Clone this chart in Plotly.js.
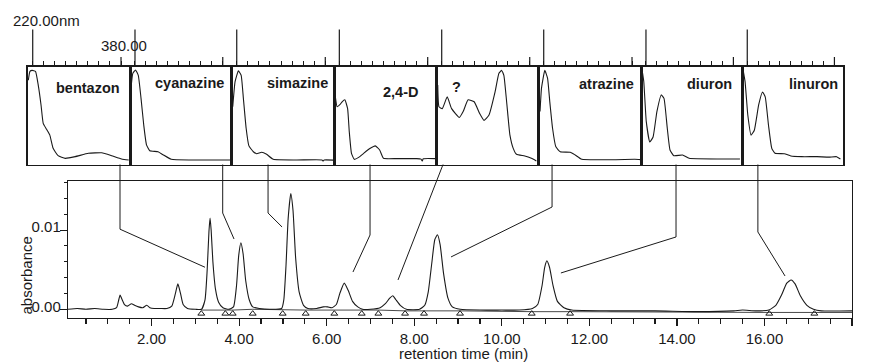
<!DOCTYPE html>
<html><head><meta charset="utf-8">
<script src="https://cdn.plot.ly/plotly-3.0.1.min.js"></script>
<style>html,body{margin:0;padding:0;background:#fff}</style>
</head><body><div id="chart" style="width:869px;height:363px"></div>
<script>
// ---------------- DATA ----------------
const compounds = ['bentazon','cyanazine','simazine','2,4-D','?','atrazine','diuron','linuron'];

// chromatogram (retention time in min, absorbance)
const retTime = [0.09,0.3,0.5,0.7,0.9,1.1,1.2,1.25,1.28,1.32,1.38,1.45,1.54,1.61,1.7,1.8,1.89,1.96,2.06,2.2,2.35,2.46,2.54,2.6,2.66,2.72,2.82,3.0,3.14,3.22,3.27,3.31,3.335,3.36,3.4,3.46,3.53,3.63,3.76,3.87,3.94,3.99,4.04,4.09,4.15,4.23,4.31,4.46,4.7,4.97,5.02,5.07,5.12,5.18,5.23,5.29,5.37,5.47,5.57,5.77,5.92,6.02,6.12,6.22,6.3,6.4,6.49,6.59,6.71,6.82,7.0,7.22,7.34,7.44,7.51,7.58,7.68,7.82,8.12,8.24,8.32,8.4,8.47,8.53,8.59,8.67,8.77,8.87,9.05,9.5,10.0,10.4,10.7,10.82,10.92,10.98,11.03,11.09,11.17,11.27,11.42,11.6,12.5,13.5,14.5,15.3,15.5,15.8,16.1,16.26,16.39,16.51,16.61,16.7,16.82,16.97,17.12,17.3,18.0];
const absorb = [0.0000,0.0001,0.0000,0.0001,0.0000,0.0000,0.0002,0.0012,0.0018,0.0013,0.0006,0.0004,0.0007,0.0005,0.0003,0.0002,0.0005,0.0002,0.0001,0.0001,0.0001,0.0004,0.0019,0.0032,0.0020,0.0006,0.0001,0.0000,0.0000,0.0012,0.0050,0.0098,0.0115,0.0100,0.0060,0.0025,0.0009,0.0002,0.0000,0.0003,0.0030,0.0068,0.0084,0.0070,0.0036,0.0012,0.0003,0.0001,0.0000,0.0001,0.0012,0.0055,0.0115,0.0146,0.0125,0.0065,0.0022,0.0005,0.0001,0.0001,0.0003,0.0003,0.0002,0.0006,0.0020,0.0033,0.0024,0.0010,0.0003,0.0000,0.0000,0.0002,0.0007,0.0014,0.0017,0.0012,0.0005,0.0000,0.0000,0.0005,0.0022,0.0058,0.0088,0.0094,0.0082,0.0045,0.0014,0.0003,0.0000,-0.0001,-0.0001,-0.0001,0.0001,0.0006,0.0030,0.0053,0.0061,0.0053,0.0030,0.0010,0.0002,-0.0001,-0.0002,-0.0002,-0.0003,-0.0002,-0.0001,-0.0002,-0.0001,0.0005,0.0018,0.0033,0.0037,0.0032,0.0017,0.0005,0.0000,-0.0002,-0.0002];

// integration marks (peak start / end) and baseline
const markTimes = [3.135,3.684,3.853,4.31,4.995,5.52,6.174,6.80,7.18,7.79,8.223,9.046,10.684,11.56,16.11,17.14];
const baseTime = [3.135,3.684,3.853,4.31,4.995,5.52,6.174,6.80,7.18,7.79,8.223,9.046,10.684,11.56,16.11,17.14,18.0];
const baseAbs  = [-0.0001,-0.0001,-0.0001,0.0000,-0.0001,-0.0001,-0.0001,-0.0001,-0.0001,-0.0002,-0.0002,-0.0002,-0.0003,-0.0003,-0.0004,-0.0004,-0.0004];

// UV spectra (wavelength nm, relative absorbance 0..1)
const wlBentazon  = [212,215,219,225,230,235,239,245,251,257,266,279,297,321,345,363,381,394];
const absBentazon = [0.86,0.95,0.96,0.95,0.81,0.61,0.42,0.36,0.30,0.165,0.09,0.063,0.08,0.114,0.12,0.09,0.056,0.046];
const wlCyanazine  = [212.8,216,221,226,231,236,241,247,262,271,286,322,394];
const absCyanazine = [0.78,0.93,0.965,0.91,0.675,0.40,0.20,0.14,0.13,0.10,0.053,0.046,0.046];
const wlSimazine  = [212.8,217,223,228,232,237,242,250,256,265,274,286,328,374,376,378,394];
const absSimazine = [0.59,0.845,0.955,0.91,0.675,0.37,0.19,0.13,0.11,0.125,0.104,0.053,0.046,0.046,0.035,0.046,0.045];
const wl24D  = [212.8,216,221,225,230,235,238,242,247,255,264,276,285,293,300,324,360,368,370,372,394];
const abs24D = [0.69,0.59,0.61,0.64,0.66,0.57,0.335,0.114,0.053,0.073,0.114,0.165,0.19,0.148,0.063,0.06,0.06,0.055,0.035,0.058,0.06];
const wlUnknown  = [212.8,215,221,230,238,252,259,268,279,289,297,306,317,324,329,333,338,344,350,356,371,383,392];
const absUnknown = [0.81,0.59,0.57,0.69,0.57,0.48,0.54,0.66,0.64,0.52,0.45,0.505,0.74,0.93,0.96,0.91,0.64,0.30,0.165,0.104,0.087,0.063,0.036];
const wlAtrazine  = [213.3,216,222,227,231,236,242,250,268,277,289,385,396];
const absAtrazine = [0.54,0.78,0.96,0.88,0.64,0.37,0.18,0.13,0.125,0.097,0.053,0.053,0.05];
const wlDiuron  = [212.8,216,220.5,227,233,240,248,253,259,264,271,287,299,356,392];
const absDiuron = [0.965,0.845,0.44,0.23,0.28,0.54,0.71,0.675,0.37,0.148,0.09,0.097,0.063,0.056,0.056];
const wlLinuron  = [212.8,216,221,227,233,241,248,253,259,265,271,288,300,320,348,370,384,391];
const absLinuron = [0.95,0.845,0.505,0.30,0.35,0.61,0.74,0.69,0.40,0.165,0.114,0.11,0.087,0.08,0.08,0.075,0.08,0.056];

const xTickVals = [2,4,6,8,10,12,14,16,18];
const yTickVals = [0,0.01];
const wlTickVals = [220,240,260,280,300,320,340,360,380];

// ---------------- LAYOUT HELPERS ----------------
const W = 869, H = 363;
const px = v => v / W;
const py = v => 1 - v / H;
const FONT = '"Liberation Sans", Arial, Helvetica, sans-serif';
const ink = '#1a1a1a';

const mainXpx = [68, 852], mainYpx = [181, 318];
const xRange = [0.09, 18], yRange = [-0.0011, 0.01618];
const boxEdges = [27.7,130,231.7,334.3,436.7,538.7,641,742.3,843.3];
const boxTop = 66.5, boxBot = 164.5;
const wlRange = [210.9, 396.3];

const spectra = [
  [wlBentazon, absBentazon],[wlCyanazine, absCyanazine],[wlSimazine, absSimazine],[wl24D, abs24D],
  [wlUnknown, absUnknown],[wlAtrazine, absAtrazine],[wlDiuron, absDiuron],[wlLinuron, absLinuron]
];
// label centre x / baseline y (px)
const labelPos = [[88.3,92.5],[189.2,87.5],[297.3,87.5],[400.5,96.5],[456.5,91.5],[606,88.3],[709,88.3],[813,88.3]];
// leader lines: vertical drop x (min), kink absorbance, end point near peak (min, abs)
const leaders = [
  {x:1.278, ky:0.0101, ex:3.22, ey:0.0053},
  {x:3.624, ky:0.01214, ex:3.883, ey:0.00886},
  {x:4.66, ky:0.01214, ex:4.98, ey:0.01038},
  {x:6.99, ky:0.00937, ex:6.60, ey:0.0047},
  {x:8.657, ky:null, ex:7.629, ey:0.0037},
  {x:11.148, ky:0.0129, ex:8.84, ey:0.0066},
  {x:13.98, ky:0.00912, ex:11.35, ey:0.00458},
  {x:15.85, ky:0.00975, ex:16.47, ey:0.0042}
];

const tPerPx = (xRange[1]-xRange[0])/(mainXpx[1]-mainXpx[0]);
const aPerPx = (yRange[1]-yRange[0])/(mainYpx[1]-mainYpx[0]);
const ovX = [xRange[0] - mainXpx[0]*tPerPx, xRange[0] + (W-mainXpx[0])*tPerPx];
const ovY = [yRange[0] - (H-mainYpx[1])*aPerPx, yRange[1] + mainYpx[0]*aPerPx];
const boxBotAbs = yRange[1] + (mainYpx[0]-boxBot)*aPerPx;

const traces = [];
traces.push({x:retTime, y:absorb, type:'scatter', mode:'lines', xaxis:'x', yaxis:'y',
  line:{color:ink, width:1.1, shape:'spline', smoothing:0.5}, hoverinfo:'skip', showlegend:false});
traces.push({x:baseTime, y:baseAbs, type:'scatter', mode:'lines', xaxis:'x', yaxis:'y',
  line:{color:ink, width:0.8}, hoverinfo:'skip', showlegend:false});
traces.push({x:markTimes, y:markTimes.map(()=>-0.00055), type:'scatter', mode:'markers', xaxis:'x', yaxis:'y',
  marker:{symbol:'triangle-up-open', size:6, color:ink, line:{width:1, color:ink}}, cliponaxis:false, hoverinfo:'skip', showlegend:false});

const layout = {
  width:W, height:H, margin:{l:0,r:0,t:0,b:0}, paper_bgcolor:'#fff', plot_bgcolor:'rgba(0,0,0,0)',
  showlegend:false, font:{family:FONT, size:15, color:ink},
  xaxis:{domain:[px(mainXpx[0]), px(mainXpx[1])], range:xRange, anchor:'y', showline:true, mirror:true, linecolor:ink, linewidth:1.2,
    ticks:'outside', tickvals:xTickVals, tickformat:'.2f', ticklen:7, tickwidth:1.2, tickcolor:ink,
    minor:{dtick:0.5, tick0:0, ticks:'outside', ticklen:5, tickwidth:1.2, tickcolor:ink},
    showgrid:false, zeroline:false, tickfont:{size:15, family:FONT, color:ink}},
  yaxis:{domain:[py(mainYpx[1]), py(mainYpx[0])], range:yRange, anchor:'x', showline:true, mirror:true, linecolor:ink, linewidth:1.2,
    ticks:'outside', tickvals:yTickVals, tickformat:'.2f', ticklen:7, tickwidth:1, tickcolor:ink,
    minor:{dtick:0.002, tick0:0, ticks:'outside', ticklen:3, tickwidth:1, tickcolor:ink},
    showgrid:false, zeroline:false, tickfont:{size:15, family:FONT, color:ink}, ticklabelshift:-3, ticklabelstandoff:-4},
  xaxis10:{domain:[0,1], range:ovX, anchor:'y10', visible:false, fixedrange:true},
  yaxis10:{domain:[0,1], range:ovY, anchor:'x10', visible:false, fixedrange:true},
  shapes:[], annotations:[]
};

spectra.forEach((s, i) => {
  const n = i + 2;
  layout['xaxis'+n] = {domain:[px(boxEdges[i]), px(boxEdges[i+1])], range:wlRange, side:'top', anchor:'y'+n,
    showline:true, mirror:true, linecolor:ink, linewidth:1.5, ticks:'outside', tickvals:wlTickVals, ticklen:4,
    tickwidth:1, tickcolor:ink, showticklabels:false, showgrid:false, zeroline:false};
  layout['yaxis'+n] = {domain:[py(boxBot), py(boxTop)], range:[0,1], anchor:'x'+n,
    showline:true, mirror:true, linecolor:ink, linewidth:1.5, ticks:'', showticklabels:false, showgrid:false, zeroline:false};
  traces.push({x:s[0], y:s[1], type:'scatter', mode:'lines', xaxis:'x'+n, yaxis:'y'+n,
    line:{color:ink, width:1.1, shape:'spline', smoothing:0.4}, hoverinfo:'skip', showlegend:false});
  // tall 220 nm marker and 380 nm end tick
  layout.shapes.push({type:'line', xref:'x'+n, yref:'paper', x0:wlTickVals[0], x1:wlTickVals[0], y0:py(boxTop), y1:py(29.5), line:{color:ink, width:1.2}});
  layout.shapes.push({type:'line', xref:'x'+n, yref:'paper', x0:wlTickVals[8], x1:wlTickVals[8], y0:py(boxTop), y1:py(57), line:{color:ink, width:1.2}});
  layout.annotations.push({xref:'paper', yref:'paper', x:px(labelPos[i][0]), y:py(labelPos[i][1]-4.6), xanchor:'center', yanchor:'middle',
    text:'<b>'+compounds[i]+'</b>', showarrow:false, font:{family:FONT, size:14.5, color:ink}});
  // leader line
  const L = leaders[i];
  const lx = L.ky === null ? [L.x, L.ex] : [L.x, L.x, L.ex];
  const ly = L.ky === null ? [boxBotAbs, L.ey] : [boxBotAbs, L.ky, L.ey];
  traces.push({x:lx, y:ly, type:'scatter', mode:'lines', xaxis:'x10', yaxis:'y10',
    line:{color:ink, width:1}, hoverinfo:'skip', showlegend:false});
});

layout.annotations.push({xref:'paper', yref:'paper', x:px(46.7), y:py(20.5), xanchor:'center', yanchor:'middle', text:'220.00nm', showarrow:false, font:{family:FONT, size:15, color:ink}});
layout.annotations.push({xref:'paper', yref:'paper', x:px(123.7), y:py(45.5), xanchor:'center', yanchor:'middle', text:'380.00', showarrow:false, font:{family:FONT, size:15, color:ink}});
layout.annotations.push({xref:'paper', yref:'paper', x:px(463.8), y:py(353.5), xanchor:'center', yanchor:'middle', text:'retention time (min)', showarrow:false, font:{family:FONT, size:15, color:ink}});
layout.annotations.push({xref:'paper', yref:'paper', x:px(25.5), y:py(276), xanchor:'center', yanchor:'middle', text:'absorbance', textangle:-90, showarrow:false, font:{family:FONT, size:15, color:ink}});

Plotly.newPlot('chart', traces, layout, {staticPlot:true, displayModeBar:false});
</script></body></html>
